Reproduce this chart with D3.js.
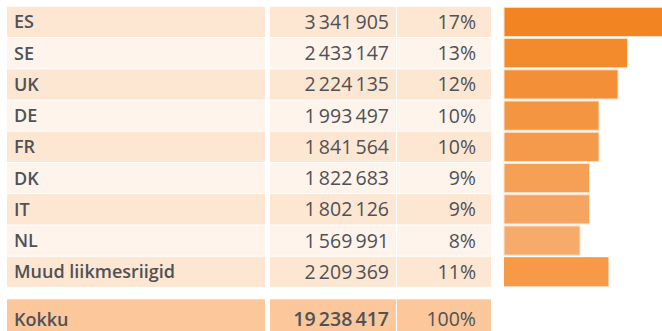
<!DOCTYPE html>
<html>
<head>
<meta charset="utf-8">
<script src="https://cdn.jsdelivr.net/npm/d3@7"></script>
<style>
  html, body { margin: 0; padding: 0; background: #fff; }
  svg { display: block; }
  text { font-family: "Open Sans", "Noto Sans", sans-serif; fill: #4f5256; }
</style>
</head>
<body>
<svg id="chart" width="662" height="331"></svg>
<script>
// Member states and their figures
const countries = ["ES", "SE", "UK", "DE", "FR", "DK", "IT", "NL", "Muud liikmesriigid"];
const values = [3341905, 2433147, 2224135, 1993497, 1841564, 1822683, 1802126, 1569991, 2209369];
const shares = [17, 13, 12, 10, 10, 9, 9, 8, 11];
const totalLabel = "Kokku";
const totalValue = 19238417;
const totalShare = 100;

const svg = d3.select("#chart");

// column layout
const col = {
  label: [7, 265],
  value: [270, 396],
  share: [397, 491],
  bar: 504
};

const rows = countries.map((c, i) => ({ name: c, value: values[i], share: shares[i], i }));

const y = d3.scaleBand()
  .domain(countries)
  .range([6.8, 287.9])
  .paddingInner(0);

const x = d3.scaleLinear()
  .domain([0, 17])
  .range([0, 161.5]);

const fmt = v => d3.format(",")(v).replace(/,/g, "\u2009");

const rowFill = ["#fde6d2", "#fef4ec"];
const barFill = d3.scaleLinear()
  .domain([0, 7])
  .range(["#f28421", "#f7ab6b"])
  .interpolate(d3.interpolateRgb);

const labelSize = "18px", numSize = "19.5px";

const g = svg.append("g");

const row = g.selectAll("g.row")
  .data(rows)
  .join("g")
  .attr("class", "row")
  .attr("transform", d => `translate(0,${y(d.name)})`);

const bh = y.bandwidth() - 1;

// cell backgrounds
[col.label, col.value, col.share].forEach(([a, b]) => {
  row.append("rect")
    .attr("x", a)
    .attr("width", b - a)
    .attr("height", bh)
    .attr("fill", d => rowFill[d.i % 2]);
});

row.append("text")
  .attr("x", 14)
  .attr("y", bh / 2)
  .attr("dy", "0.36em")
  .style("font-size", labelSize)
  .style("font-weight", 600)
  .text(d => d.name);

row.append("text")
  .attr("x", 389)
  .attr("y", bh / 2)
  .attr("dy", "0.36em")
  .attr("text-anchor", "end")
  .style("font-size", numSize)
  .text(d => fmt(d.value));

row.append("text")
  .attr("x", 476)
  .attr("y", bh / 2)
  .attr("dy", "0.36em")
  .attr("text-anchor", "end")
  .style("font-size", numSize)
  .text(d => d.share + "%");

// share bars
row.append("rect")
  .attr("x", col.bar)
  .attr("y", 0.5)
  .attr("width", d => x(d.share))
  .attr("height", bh - 1)
  .attr("fill", d => d.name === "Muud liikmesriigid" ? "#f79a48" : barFill(d.i))
  .attr("stroke", d => d.name === "Muud liikmesriigid" ? "none" : "#fde3cc")
  .attr("stroke-width", 1);

// total row
const ty = bh / 2 + 4.7;
const tot = g.append("g").attr("transform", "translate(0,299.3)");
[col.label, col.value, col.share].forEach(([a, b]) => {
  tot.append("rect")
    .attr("x", a)
    .attr("width", b - a)
    .attr("height", 40)
    .attr("fill", "#fbc79b");
});
tot.append("text")
  .attr("x", 14).attr("y", ty).attr("dy", "0.36em")
  .style("font-size", labelSize).style("font-weight", 600)
  .text(totalLabel);
tot.append("text")
  .attr("x", 389).attr("y", ty).attr("dy", "0.36em")
  .attr("text-anchor", "end")
  .style("font-size", numSize).style("font-weight", 600)
  .text(fmt(totalValue));
tot.append("text")
  .attr("x", 476).attr("y", ty).attr("dy", "0.36em")
  .attr("text-anchor", "end")
  .style("font-size", numSize)
  .text(totalShare + "%");
</script>
</body>
</html>
